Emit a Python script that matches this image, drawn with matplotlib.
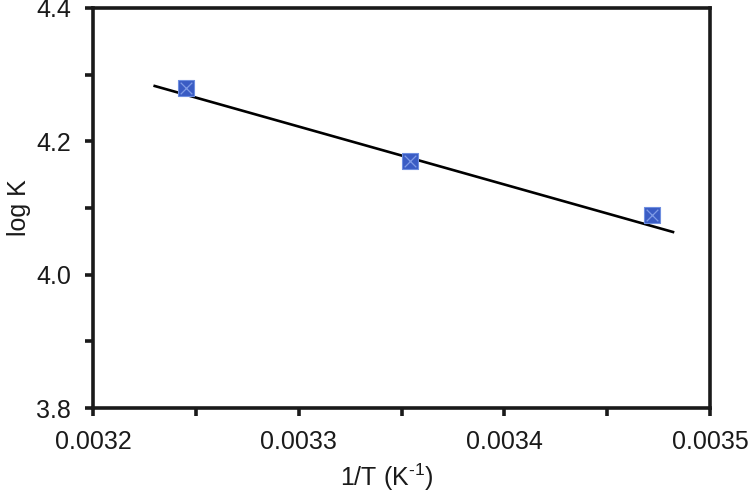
import numpy as np
import matplotlib
matplotlib.use("Agg")
import matplotlib.pyplot as plt
from matplotlib.ticker import MultipleLocator, FormatStrFormatter

# data
inv_T = [0.003245, 0.003354, 0.003472]
log_K = [4.28, 4.17, 4.09]
# trendline as drawn in the original
trend_x = [0.00323, 0.003482]
trend_y = [4.283, 4.064]

plt.rcParams["font.family"] = ["Liberation Sans", "DejaVu Sans"]
plt.rcParams["mathtext.fontset"] = "custom"
plt.rcParams["mathtext.rm"] = "Liberation Sans"
plt.rcParams["mathtext.default"] = "rm"

fig = plt.figure(figsize=(7.5, 4.93), dpi=100)
ax = fig.add_axes([0.124, 0.1724, 0.8227, 0.8114])

ax.plot(trend_x, trend_y, color="black", lw=1.9, zorder=2)

ax.scatter(inv_T, log_K, marker="s", s=120, color="#3a5cc4",
           edgecolors="#6f8fe0", linewidths=0.8, zorder=3)
ax.scatter(inv_T, log_K, marker="x", s=70, color="#7f9be6",
           linewidths=0.9, zorder=4)

ax.set_xlim(0.0032, 0.0035)
ax.set_ylim(3.8, 4.4)
ax.xaxis.set_major_locator(MultipleLocator(0.0001))
ax.xaxis.set_minor_locator(MultipleLocator(0.00005))
ax.yaxis.set_major_locator(MultipleLocator(0.2))
ax.yaxis.set_minor_locator(MultipleLocator(0.1))
ax.xaxis.set_major_formatter(FormatStrFormatter("%.4f"))
ax.yaxis.set_major_formatter(FormatStrFormatter("%.1f"))

for s in ax.spines.values():
    s.set_linewidth(2.6)
    s.set_color("#1a1a1a")
ax.tick_params(which="both", direction="out", width=2.6, length=6,
               color="#1a1a1a", labelsize=18, labelcolor="#1a1a1a")
ax.tick_params(axis="x", pad=10)
ax.tick_params(axis="y", pad=10)

ax.set_xlabel("1/T (K$^{\\text{-}1}$)", fontsize=18, color="#1a1a1a")
ax.set_ylabel("log K", fontsize=18, color="#1a1a1a")
ax.xaxis.set_label_coords(0.4765, -0.133)
ax.yaxis.set_label_coords(-0.100, 0.5)

fig.savefig("out.png", dpi=100)
